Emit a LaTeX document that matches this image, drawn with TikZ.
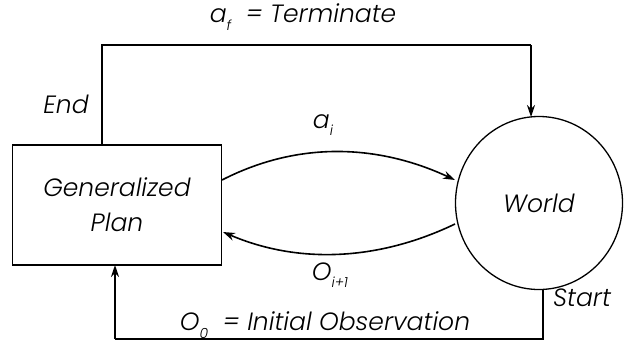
\documentclass[tikz,border=0pt]{standalone}
\usepackage{fontspec}
\setmainfont{Poppins}[ItalicFont={Poppins Light Italic}]
\usetikzlibrary{arrows.meta,shapes.geometric}
\newcommand\mysub[1]{\raisebox{-0.3em}{\fontsize{14}{14}\selectfont #1}}
\begin{document}
\begin{tikzpicture}[x=1pt,y=-1pt,
  lbl/.style={font=\fontsize{25}{29}\selectfont\itshape, inner sep=0pt},
  conn/.style={line width=1.6pt, -{Stealth[length=12pt,width=8pt]}},
  plain/.style={line width=1.6pt}]
\useasboundingbox (0,0) rectangle (626,351);
\node[draw, line width=1.6pt, minimum width=209pt, minimum height=120pt, inner sep=0pt, align=center, lbl] (plan) at (117,205) {Generalized\\[6pt]Plan};
\node[draw, ellipse, line width=1.3pt, minimum width=167pt, minimum height=173pt, inner sep=0pt, lbl] (world) at (539,203) {World};
\coordinate (tl) at (102,45);
\coordinate (tr) at (531,45);
\coordinate (bl) at (115,339);
\coordinate (br) at (543,339);
\draw[plain] (102,145) -- (tl) -- (tr);
\draw[conn] (tr) -- (531,117);
\draw[plain] (543,290) -- (br) -- (bl);
\draw[conn] (bl) -- (115,265);
\draw[conn] (222,180) .. controls (300,140) and (380,145) .. (455,180);
\draw[conn] (455,224) .. controls (380,260) and (300,265) .. (223,232);
\node[lbl] (tlab) at (303,17) {a\mysub{f}\ \ = Terminate};
\node[lbl] (end) at (66,104) {End};
\node[lbl] (ai) at (323,125) {a\mysub{i}};
\node[lbl] (oi) at (330,275) {O\mysub{i+1}};
\node[lbl] (blab) at (325,325) {O\mysub{0}\ \ = Initial Observation};
\node[lbl] (start) at (582,298) {Start};
\end{tikzpicture}
\end{document}
